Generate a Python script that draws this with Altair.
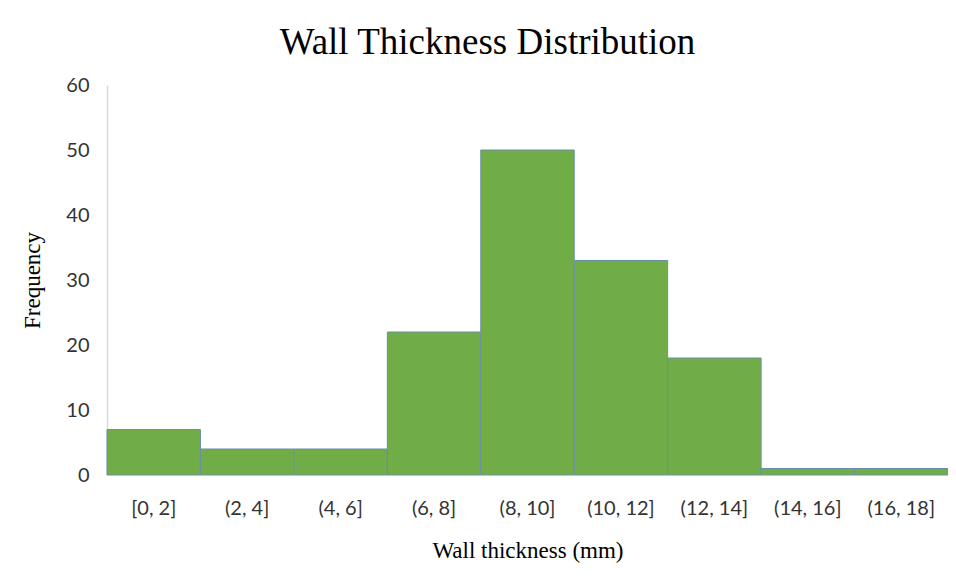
import altair as alt
import pandas as pd

bins = ["[0, 2]", "(2, 4]", "(4, 6]", "(6, 8]", "(8, 10]", "(10, 12]", "(12, 14]", "(14, 16]", "(16, 18]"]
freq = [7, 4, 4, 22, 50, 33, 18, 1, 1]

df = pd.DataFrame({"bin": bins, "freq": freq})

chart = alt.Chart(df).mark_bar(
    color="#70AD47", stroke="#6A8FA8", strokeWidth=1
).encode(
    x=alt.X("bin:N", sort=bins, title="Wall thickness (mm)",
            scale=alt.Scale(paddingInner=0, paddingOuter=0),
            axis=alt.Axis(labelAngle=0, domain=False, ticks=False, labelPadding=23,
                          labelFont="Lato", labelFontSize=20, labelColor="#333333",
                          titleFont="Liberation Serif", titleFontSize=23, titleFontWeight="normal",
                          titleColor="#000000", titlePadding=21)),
    y=alt.Y("freq:Q", title="Frequency",
            scale=alt.Scale(domain=[0, 60]),
            axis=alt.Axis(values=[0, 10, 20, 30, 40, 50, 60], grid=False, ticks=False,
                          domainColor="#D9D9D9", domainWidth=1.5, labelPadding=18,
                          labelFont="Lato", labelFontSize=20, labelColor="#333333",
                          titleFont="Liberation Serif", titleFontSize=23, titleFontWeight="normal",
                          titleColor="#000000", titlePadding=21)),
).properties(
    width=841, height=390,
    title=alt.TitleParams("Wall Thickness Distribution", font="Liberation Serif", fontSize=37,
                          fontWeight="normal", color="#000000", anchor="middle", dx=-40, offset=13),
    autosize=alt.AutoSizeParams(type="none"),
    padding={"left": 99, "top": 77, "right": 0, "bottom": 93},
).configure_view(stroke=None)

chart.save("out.html", embed_options={"renderer": "svg", "actions": False})
